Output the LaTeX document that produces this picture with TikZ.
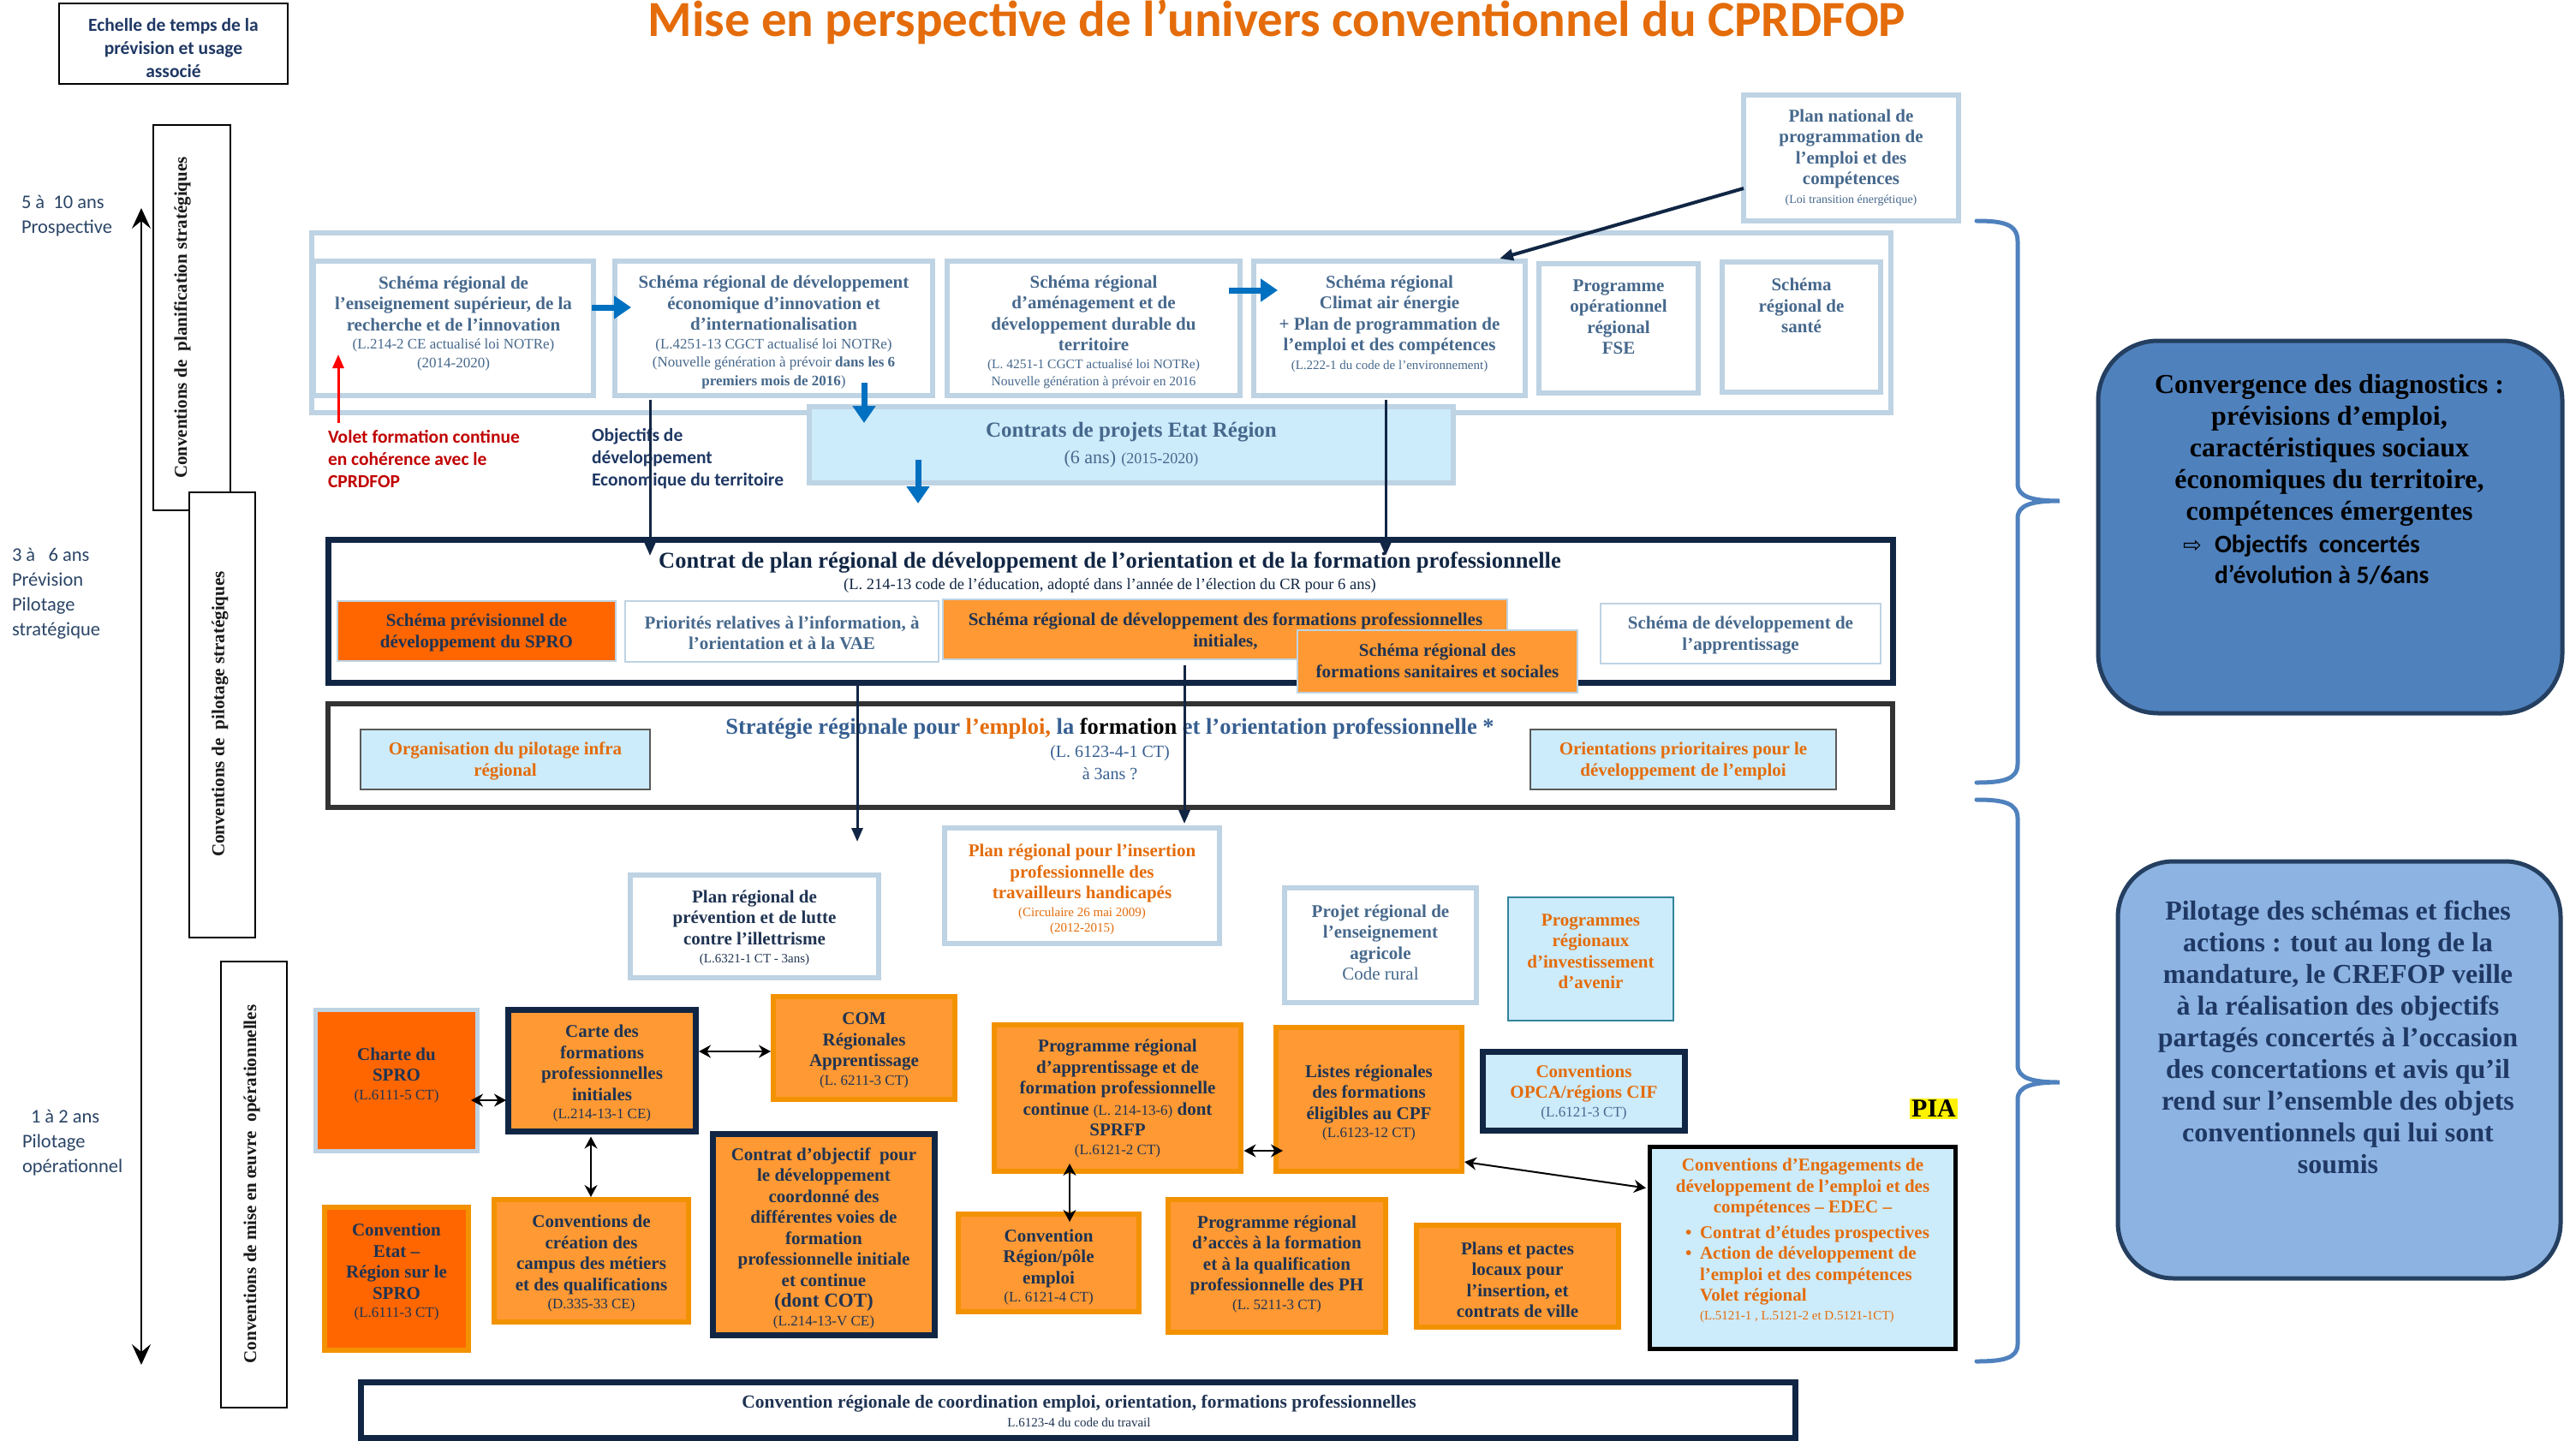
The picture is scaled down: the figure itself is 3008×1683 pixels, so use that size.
\documentclass[tikz,border=0pt]{standalone}
\usepackage{fontspec}
\setmainfont{Liberation Serif}
\newfontfamily\calib{Carlito}
\newfontfamily\djv{DejaVu Sans}
\usetikzlibrary{arrows.meta}
\newcommand\FS[2]{\fontsize{#1}{#2}\selectfont}
\newcommand\smtx[1]{{\FS{17}{20}\mdseries #1}}
\newcommand\tntx[1]{{\FS{15}{18}\mdseries #1}}
\definecolor{lbord}{HTML}{BED3E3}
\definecolor{steel}{HTML}{46688C}
\definecolor{steelS}{HTML}{365F91}
\definecolor{navy}{HTML}{112644}
\definecolor{dtext}{HTML}{1F3352}
\definecolor{orV}{HTML}{FF6600}
\definecolor{orL}{HTML}{FF9933}
\definecolor{orB}{HTML}{F39200}
\definecolor{orT}{HTML}{E46C0A}
\definecolor{lblue}{HTML}{CCEBFB}
\definecolor{arrblue}{HTML}{0070C0}
\definecolor{convc}{HTML}{4F81BD}
\definecolor{piloc}{HTML}{8DB3E2}
\definecolor{rbord}{HTML}{243F60}
\definecolor{labc}{HTML}{2B4566}
\definecolor{redt}{HTML}{C00000}
\definecolor{grayb}{HTML}{333333}
\definecolor{tealb}{HTML}{31849B}
\definecolor{echc}{HTML}{1F3864}
\tikzset{
  every node/.style={inner sep=0pt, outer sep=0pt},
  bx/.style={rectangle, draw},
  lbb/.style={bx, draw=lbord, line width=6pt, fill=white},
  thlb/.style={bx, draw=lbord, line width=2.5pt},
  orb/.style={bx, draw=orB, line width=6pt, fill=orL},
  nvb/.style={bx, draw=navy, line width=7pt},
  vrect/.style={bx, draw=black, line width=2pt, fill=white},
  txt/.style={align=center, font=\FS{21}{24.5}\bfseries},
  stl/.style={txt, text=steel},
  dkt/.style={txt, text=dtext},
  ort/.style={txt, text=orT},
  lab/.style={align=left, anchor=west, text=labc, font=\calib\FS{22.5}{29}},
  calb/.style={align=left, anchor=west, font=\calib\bfseries\FS{21.5}{26}},
  vtxt/.style={rotate=90, font=\FS{21}{24}\bfseries, text=black!90},
  bluearr/.style={draw=arrblue, line width=7pt, -{Triangle[length=20pt,width=26pt]}},
  darr/.style={draw=navy, line width=3pt, -{Triangle[length=16pt,width=13pt]}},
  dbl/.style={draw=black, line width=2pt, {Stealth[length=14pt,width=15pt]}-{Stealth[length=14pt,width=15pt]}},
  brace/.style={draw=convc, line width=5pt, line cap=round},
  rbox/.style={bx, draw=rbord, line width=5pt},
}
\begin{document}
\begin{tikzpicture}[x=1pt,y=-1pt]
\useasboundingbox (0,0) rectangle (3008,1683);

% ---- title and time scale
\node[anchor=base, font=\calib\bfseries\FS{59}{64}, text=orT] (title) at (1491,43) {Mise en perspective de l’univers conventionnel du CPRDFOP};
\node[vrect, minimum width=267pt, minimum height=94pt] (ech) at (202.5,51) {};
\node[align=center, font=\calib\bfseries\FS{21.5}{27}, text=echc] (echt) at (202.5,56) {Echelle de temps de la\\prévision et usage\\associé};

\coordinate (ta) at (165,243);
\coordinate (tb) at (165,1594);
\draw[line width=2pt, {Stealth[length=24pt,width=22pt,inset=9pt]}-{Stealth[length=24pt,width=22pt,inset=9pt]}] (ta) -- (tb);

\node[lab] (l1) at (25,252) {5 à\ \ 10 ans\\Prospective};
\node[lab] (l2) at (14,693) {3 à\ \ \ 6 ans\\Prévision\\Pilotage\\stratégique};
\node[lab] (l3) at (26,1335) {\hspace*{10pt}1 à 2 ans\\Pilotage\\opérationnel};

\node[vrect, minimum width=90pt, minimum height=450pt] (planif) at (224,371) {};
\node[vrect, minimum width=77pt, minimum height=520pt] (pilot) at (259.5,835) {};
\node[vrect, minimum width=77pt, minimum height=521pt] (moe) at (296.5,1383.5) {};
\node[vtxt] (planift) at (213,371) {Conventions de\ \ planification stratégiques};
\node[vtxt] (pilott) at (257,834) {Conventions de\ \ pilotage stratégiques};
\node[vtxt] (moet) at (294,1383) {Conventions de mise en œuvre\ \ opérationnelles};

% ---- top row
\node[lbb, minimum width=1844pt, minimum height=210pt] (outer) at (1286,377) {};
\node[lbb, minimum width=327pt, minimum height=157pt] (b1) at (529.5,383.5) {};
\node[lbb, minimum width=371pt, minimum height=157pt] (b2) at (903.5,383.5) {};
\node[lbb, minimum width=342pt, minimum height=157pt] (b3) at (1277,383.5) {};
\node[lbb, minimum width=317pt, minimum height=157pt] (b4) at (1622.5,383.5) {};
\node[lbb, minimum width=186pt, minimum height=151pt] (b5) at (1890,383.5) {};
\node[lbb, minimum width=185pt, minimum height=152pt] (b6) at (2103.5,382) {};
\node[lbb, minimum width=251pt, minimum height=147pt] (pn) at (2161.5,184.5) {};
\node[lbb, fill=lblue, minimum width=752pt, minimum height=89pt] (cper) at (1321,519.5) {};

\node[stl] (b1t) at (529.5,378) {Schéma régional de\\l’enseignement supérieur, de la\\recherche et de l’innovation\\[-3pt]\smtx{(L.214-2 CE actualisé loi NOTRe)}\\[-3pt]\smtx{(2014-2020)}};
\node[stl] (b2t) at (903.5,388) {Schéma régional de développement\\économique d’innovation et\\d’internationalisation\\[-3pt]\smtx{(L.4251-13 CGCT actualisé loi NOTRe)}\\[-3pt]\smtx{(Nouvelle génération à prévoir \textbf{dans les 6}}\\[-3pt]\smtx{\textbf{premiers mois de 2016})}};
\node[stl] (b3t) at (1277,388) {Schéma régional\\d’aménagement et de\\développement durable du\\territoire\\[-4pt]{\FS{15.5}{18}\mdseries (L. 4251-1 CGCT actualisé loi NOTRe)}\\[-4pt]{\FS{15.5}{18}\mdseries Nouvelle génération à prévoir en 2016}};
\node[stl] (b4t) at (1622.5,378) {Schéma régional\\Climat air énergie\\+ Plan de programmation de\\l’emploi et des compétences\\[-3pt]\tntx{(L.222-1 du code de l’environnement)}};
\node[stl] (b5t) at (1890,370) {Programme\\opérationnel\\régional\\FSE};
\node[stl] (b6t) at (2103.5,357) {Schéma\\régional de\\santé};
\node[stl] (pnt) at (2161.5,184) {Plan national de\\programmation de\\l’emploi et des\\compétences\\[-3pt]{\FS{14}{17}\mdseries (Loi transition énergétique)}};
\node[txt, text=steel, font=\FS{25}{31}\bfseries] (cpert) at (1321,520) {Contrats de projets Etat Région\\{\FS{22}{26}\mdseries (6 ans)} {\FS{18}{20}\mdseries (2015-2020)}};

\node[calb, text=redt] (redtxt) at (383,536) {Volet formation continue\\en cohérence avec le\\CPRDFOP};
\node[calb, text=echc] (objtxt) at (691,536) {Objectifs de\\développement\\Economique du territoire};

% ---- CPRDFOP
\node[nvb, fill=white, minimum width=1827pt, minimum height=167pt] (cprd) at (1296.5,713.5) {};
\node[font=\FS{26.5}{30}\bfseries, text=navy] (cprdt) at (1296,657) {Contrat de plan régional de développement de l’orientation et de la formation professionnelle};
\node[font=\FS{18.5}{21}, text=navy] (cprds) at (1296,684) {(L. 214-13 code de l’éducation, adopté dans l’année de l’élection du CR pour 6 ans)};
\node[thlb, fill=orV, minimum width=325pt, minimum height=70pt] (spro) at (556.5,737) {};
\node[thlb, fill=white, minimum width=366pt, minimum height=71pt] (prio) at (913,737.5) {};
\node[thlb, fill=orL, minimum width=659pt, minimum height=70pt] (sfp) at (1430.5,735) {};
\node[thlb, fill=white, minimum width=327pt, minimum height=70pt] (sapp) at (2032.5,740) {};
\node[dkt] (sprot) at (556.5,739) {Schéma prévisionnel de\\développement du SPRO};
\node[stl] (priot) at (913,739.5) {Priorités relatives à l’information, à\\l’orientation et à la VAE};
\node[dkt] (sfpt) at (1431,737) {Schéma régional de développement des formations professionnelles\\initiales,};
\node[thlb, fill=orL, minimum width=327pt, minimum height=73pt] (ssan) at (1678.5,772.5) {};
\node[dkt] (ssant) at (1678.5,772) {Schéma régional des\\formations sanitaires et sociales};
\node[stl] (sappt) at (2032.5,742) {Schéma de développement de\\l’apprentissage};

% ---- Strategie
\node[bx, draw=grayb, line width=6pt, fill=white, minimum width=1827pt, minimum height=121pt] (strat) at (1296.5,882.5) {};
\node[font=\FS{26.5}{30}\bfseries, text=steelS] (stratt) at (1296,851) {Stratégie régionale pour \textcolor{orT}{l’emploi,} la \textcolor{black}{formation} et l’orientation professionnelle *};
\node[align=center, font=\FS{20}{26}, text=steelS] (strats) at (1296,891) {(L. 6123-4-1 CT)\\à 3ans ?};
\node[bx, draw=black!65, line width=1.5pt, fill=lblue, minimum width=338pt, minimum height=70pt] (org) at (590,887) {};
\node[bx, draw=black!65, line width=1.5pt, fill=lblue, minimum width=357pt, minimum height=70pt] (orient) at (1965.5,887) {};
\node[ort] (orgt) at (590,889) {Organisation du pilotage infra\\régional};
\node[ort] (orientt) at (1965.5,889) {Orientations prioritaires pour le\\développement de l’emploi};

% ---- third tier
\node[lbb, minimum width=290pt, minimum height=120pt] (illet) at (881,1082) {};
\node[lbb, minimum width=321pt, minimum height=135pt] (handi) at (1263.5,1034.5) {};
\node[lbb, minimum width=224pt, minimum height=134pt] (agri) at (1612,1104) {};
\node[bx, draw=tealb, line width=2pt, fill=lblue, minimum width=193pt, minimum height=144pt] (pria) at (1857.5,1120) {};
\node[dkt] (illett) at (881,1084) {Plan régional de\\prévention et de lutte\\contre l’illettrisme\\[-3pt]\tntx{(L.6321-1 CT - 3ans)}};
\node[ort] (handit) at (1263.5,1039) {Plan régional pour l’insertion\\professionnelle des\\travailleurs handicapés\\[-4pt]\tntx{(Circulaire 26 mai 2009)}\\[-6pt]\tntx{(2012-2015)}};
\node[stl, font=\FS{21}{24.5}] (agrit) at (1612,1101) {\textbf{Projet régional de}\\\textbf{l’enseignement}\\\textbf{agricole}\\Code rural};
\node[ort] (priat) at (1857.5,1111) {Programmes\\régionaux\\d’investissement\\d’avenir};

% ---- operational boxes
\node[bx, draw=lbord, line width=5pt, fill=orV, minimum width=189pt, minimum height=165pt] (charte) at (463,1262) {};
\node[nvb, fill=orL, minimum width=219pt, minimum height=142pt] (carte) at (703,1250.5) {};
\node[orb, minimum width=212pt, minimum height=120pt] (com) at (1009,1224) {};
\node[nvb, fill=orL, minimum width=259pt, minimum height=235pt] (cob) at (962,1442) {};
\node[orb, minimum width=288pt, minimum height=171pt] (prog) at (1305,1282.5) {};
\node[orb, minimum width=211pt, minimum height=114pt] (cpe) at (1224.5,1475) {};
\node[orb, minimum width=217pt, minimum height=168pt] (listes) at (1598.5,1284) {};
\node[nvb, fill=lblue, minimum width=236pt, minimum height=92pt] (opca) at (1849.5,1274.5) {};
\node[bx, draw=black, line width=5pt, fill=lblue, minimum width=357pt, minimum height=236pt] (edec) at (2105,1457.5) {};
\node[orb, fill=orV, minimum width=168pt, minimum height=167pt] (cer) at (463,1493.5) {};
\node[orb, minimum width=227pt, minimum height=143pt] (camp) at (690.5,1472.5) {};
\node[orb, minimum width=254pt, minimum height=155pt] (ph) at (1491,1478.5) {};
\node[orb, minimum width=236pt, minimum height=119pt] (pactes) at (1772,1490.5) {};
\node[nvb, fill=white, minimum width=1675pt, minimum height=65pt] (coord) at (1259,1647) {};

\node[dkt] (chartet) at (463,1256) {Charte du\\SPRO\\[-3pt]\smtx{(L.6111-5 CT)}};
\node[dkt] (cartet) at (703,1254) {Carte des\\formations\\professionnelles\\initiales\\[-3pt]\smtx{(L.214-13-1 CE)}};
\node[dkt] (comt) at (1009,1227) {COM\\Régionales\\Apprentissage\\[-3pt]\smtx{(L. 6211-3 CT)}};
\node[dkt] (cobt) at (962,1446) {Contrat d’objectif\ \ pour\\le développement\\coordonné des\\différentes voies de\\formation\\professionnelle initiale\\et continue\\{\FS{23}{24}(dont COT)}\\[-3pt]\smtx{(L.214-13-V CE)}};
\node[dkt] (progt) at (1305,1283) {Programme régional\\d'apprentissage et de\\formation professionnelle\\continue \smtx{(L. 214-13-6)} dont\\SPRFP\\[-3pt]\smtx{(L.6121-2 CT)}};
\node[dkt] (cpet) at (1224.5,1480) {Convention\\Région/pôle\\emploi\\[-3pt]\smtx{(L. 6121-4 CT)}};
\node[dkt] (listest) at (1598.5,1288) {Listes régionales\\des formations\\éligibles au CPF\\[-3pt]\smtx{(L.6123-12 CT)}};
\node[ort] (opcat) at (1849.5,1276) {Conventions\\OPCA/régions CIF\\[-3pt]\smtx{\textcolor{steel}{(L.6121-3 CT)}}};
\node[ort] (edect1) at (2105,1387) {Conventions d’Engagements de\\développement de l’emploi et des\\compétences – EDEC –};
\node[align=left, anchor=west, font=\FS{21}{24.5}\bfseries, text=orT] (edect2) at (1968,1488) {\makebox[17pt][l]{\textbullet}Contrat d’études prospectives\\\makebox[17pt][l]{\textbullet}Action de développement de\\\hspace*{17pt}l’emploi et des compétences\\\hspace*{17pt}Volet régional\\[-3pt]\hspace*{17pt}\tntx{(L.5121-1 , L.5121-2 et D.5121-1CT)}};
\node[dkt] (cert) at (463,1486) {Convention\\Etat –\\Région sur le\\SPRO\\[-3pt]\smtx{(L.6111-3 CT)}};
\node[dkt] (campt) at (690.5,1476) {Conventions de\\création des\\campus des métiers\\et des qualifications\\[-3pt]\smtx{(D.335-33 CE)}};
\node[dkt] (pht) at (1491,1476) {Programme régional\\d’accès à la formation\\et à la qualification\\professionnelle des PH\\[-3pt]\smtx{(L. 5211-3 CT)}};
\node[dkt] (pactest) at (1772,1495) {Plans et pactes\\locaux pour\\l’insertion, et\\contrats de ville};
\node[font=\FS{21.5}{24}\bfseries, text=dtext] (coordt) at (1260,1639) {Convention régionale de coordination emploi, orientation, formations professionnelles};
\node[font=\FS{15}{17}, text=dtext] (coords) at (1260,1661) {L.6123-4 du code du travail};
\node[fill=yellow, inner sep=2pt, font=\FS{30}{32}\bfseries] (pia) at (2258,1295) {PIA};

% ---- right side
\node[rbox, fill=convc, rounded corners=70pt, minimum width=542pt, minimum height=435pt] (convg) at (2721,615.5) {};
\node[align=center, font=\FS{32}{37}\bfseries, text=black] (convt1) at (2720,526) {Convergence des diagnostics :\\prévisions d’emploi,\\caractéristiques sociaux\\économiques du territoire,\\compétences émergentes};
\node[align=left, anchor=west, font=\calib\bfseries\FS{29.5}{36.5}, text=black] (convt2) at (2549,654) {\makebox[37pt][l]{\djv\FS{26}{26}\mdseries ⇨}Objectifs\ \ concertés\\\hspace*{37pt}d’évolution à 5/6ans};
\node[rbox, fill=piloc, rounded corners=65pt, minimum width=517pt, minimum height=487pt] (pilotb) at (2731.5,1249.5) {};
\node[align=center, font=\FS{32}{37}\bfseries, text=echc] (pilott2) at (2730,1211) {Pilotage des schémas et fiches\\actions : tout au long de la\\mandature, le CREFOP veille\\à la réalisation des objectifs\\partagés concertés à l’occasion\\des concertations et avis qu’il\\rend sur l’ensemble des objets\\conventionnels qui lui sont\\soumis};

\draw[brace] (2308,258) .. controls (2340,258) and (2356,262) .. (2356,282) -- (2356,565) .. controls (2356,580) and (2372,585) .. (2405,585) .. controls (2372,585) and (2356,590) .. (2356,605) -- (2356,892) .. controls (2356,910) and (2340,914) .. (2308,914);
\draw[brace] (2308,934) .. controls (2340,934) and (2356,938) .. (2356,956) -- (2356,1244) .. controls (2356,1259) and (2372,1264) .. (2405,1264) .. controls (2372,1264) and (2356,1269) .. (2356,1284) -- (2356,1570) .. controls (2356,1586) and (2340,1590) .. (2308,1590);

% ---- connectors
\draw[bluearr] ([xshift=-2pt,yshift=24.5pt]b1.east) -- ([xshift=19pt,yshift=24.5pt]b2.west);
\draw[bluearr] ([xshift=-13pt,yshift=44.5pt]b3.east) -- ([xshift=28pt,yshift=44.5pt]b4.west);
\draw[bluearr] ([xshift=105.5pt,yshift=15pt]b2.south) -- ([xshift=-312pt,yshift=-19pt]cper.north);
\draw[bluearr] ([xshift=-249pt,yshift=27pt]cper.south) -- ([xshift=-224.5pt,yshift=42pt]cprd.north);
\draw[darr] ([xshift=-144.5pt,yshift=-5pt]b2.south) -- ([xshift=-537.5pt,yshift=-19pt]cprd.north);
\draw[darr] ([xshift=-4.5pt,yshift=-5pt]b4.south) -- ([xshift=321.5pt,yshift=-19pt]cprd.north);
\draw[darr] ([xshift=-295.5pt,yshift=-3pt]cprd.south) -- ([xshift=120pt,yshift=39pt]illet.north);
\draw[darr] ([xshift=-47.5pt,yshift=-7pt]sfp.south) -- ([xshift=119.5pt,yshift=5pt]handi.north);
\draw[darr, line width=4pt] ([yshift=-35.5pt]pn.west) -- ([xshift=128.5pt,yshift=3pt]b4.north);
\coordinate (redst) at (395,494);
\draw[draw=red, line width=3pt, -{Triangle[length=16pt,width=13pt]}] (redst) -- ([xshift=-134.5pt,yshift=48pt]b1.south);

\draw[dbl] ([xshift=-7.5pt,yshift=-23pt]charte.east) -- ([xshift=-2.5pt,yshift=-34.5pt]carte.west);
\draw[dbl] ([xshift=-13pt,yshift=-6pt]carte.south) -- ([xshift=-0.5pt,yshift=3pt]camp.north);
\draw[dbl] ([xshift=3.5pt,yshift=22.5pt]carte.east) -- ([xshift=-3pt,yshift=-4pt]com.west);
\draw[dbl] ([xshift=-56pt,yshift=9pt]prog.south) -- ([xshift=24.5pt,yshift=-9pt]cpe.north);
\draw[dbl] ([xshift=3.5pt,yshift=-61.5pt]prog.east) -- ([xshift=8pt,yshift=-60pt]listes.west);
\draw[dbl] ([xshift=3pt,yshift=-73pt]listes.east) -- ([xshift=-4.5pt,yshift=70pt]edec.west);
\end{tikzpicture}
\end{document}
